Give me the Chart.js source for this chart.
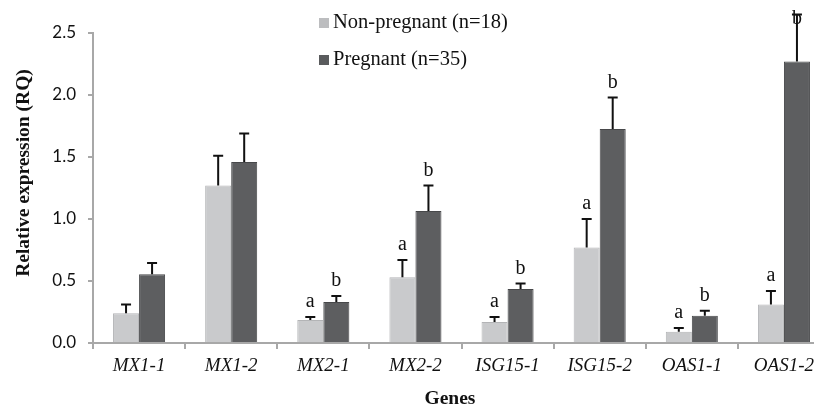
<!DOCTYPE html>
<html>
<head>
<meta charset="utf-8">
<script src="https://cdn.jsdelivr.net/npm/chart.js@4.4.1/dist/chart.umd.min.js"></script>
<style>
    html, body { margin: 0; padding: 0; background: #fff; overflow: hidden; }
    #wrap { width: 830px; height: 411px; }
</style>
</head>
<body>
<div id="wrap"><canvas id="chart"></canvas></div>
<script>
const genes = ['MX1-1', 'MX1-2', 'MX2-1', 'MX2-2', 'ISG15-1', 'ISG15-2', 'OAS1-1', 'OAS1-2'];
const yTicks = [0, 0.5, 1.0, 1.5, 2.0, 2.5];

const nonPregnant = [0.24, 1.27, 0.185, 0.53, 0.17, 0.77, 0.09, 0.31];
const nonPregnantErr = [0.07, 0.24, 0.025, 0.14, 0.04, 0.23, 0.03, 0.11];
const nonPregnantMarks = ['', '', 'a', 'a', 'a', 'a', 'a', 'a'];

const pregnant = [0.555, 1.46, 0.33, 1.065, 0.435, 1.725, 0.22, 2.27];
const pregnantErr = [0.09, 0.23, 0.05, 0.205, 0.045, 0.255, 0.04, 0.38];
const pregnantMarks = ['', '', 'b', 'b', 'b', 'b', 'b', 'b'];

const serif = '"Liberation Serif", "Times New Roman", serif';

// error bars (upper only) + significance letters
const errorBars = {
    id: 'errorBars',
    afterDatasetsDraw(chart) {
        const {ctx, scales: {y}} = chart;
        chart.data.datasets.forEach((ds, i) => {
            const meta = chart.getDatasetMeta(i);
            meta.data.forEach((bar, j) => {
                const top = y.getPixelForValue(ds.data[j] + ds.errors[j]);
                ctx.save();
                ctx.strokeStyle = '#111';
                ctx.lineWidth = 2;
                ctx.beginPath();
                ctx.moveTo(bar.x, bar.y);
                ctx.lineTo(bar.x, top);
                ctx.moveTo(bar.x - 5, top);
                ctx.lineTo(bar.x + 5, top);
                ctx.stroke();
                if (ds.marks[j]) {
                    ctx.fillStyle = '#111';
                    ctx.font = `20px ${serif}`;
                    ctx.textAlign = 'center';
                    ctx.textBaseline = 'middle';
                    ctx.fillText(ds.marks[j], bar.x, Math.max(top - 15, 19));
                }
                ctx.restore();
            });
        });
    }
};

// legend + axis titles
const extras = {
    id: 'extras',
    afterDraw(chart) {
        const {ctx} = chart;
        ctx.save();
        chart.data.datasets.forEach((ds, i) => {
            const yy = 23 + i * 37;
            ctx.fillStyle = ds.legendColor;
            ctx.fillRect(319, yy - 5, 10, 10);
            ctx.fillStyle = '#111';
            ctx.font = `20.5px ${serif}`;
            ctx.textAlign = 'left';
            ctx.textBaseline = 'middle';
            ctx.fillText(ds.label, 333, yy);
        });
        ctx.font = `bold 19.5px ${serif}`;
        ctx.textAlign = 'center';
        ctx.textBaseline = 'middle';
        ctx.fillText('Genes', 450, 399);
        ctx.translate(24, 173);
        ctx.rotate(-Math.PI / 2);
        ctx.fillText('Relative expression (RQ)', 0, 0);
        ctx.restore();
    }
};

new Chart(document.getElementById('chart'), {
    type: 'bar',
    data: {
        labels: genes,
        datasets: [
            {
                label: 'Non-pregnant (n=18)',
                data: nonPregnant,
                errors: nonPregnantErr,
                marks: nonPregnantMarks,
                backgroundColor: '#c9cacc',
                borderColor: '#b3b4b6',
                borderWidth: 1,
                legendColor: '#bcbdbf',
            },
            {
                label: 'Pregnant (n=35)',
                data: pregnant,
                errors: pregnantErr,
                marks: pregnantMarks,
                backgroundColor: '#5d5e60',
                borderColor: '#47484a',
                borderWidth: 1,
                legendColor: '#5a5b5d',
            }
        ]
    },
    options: {
        responsive: true,
        maintainAspectRatio: false,
        animation: false,
        layout: {padding: {top: 33, right: 0, left: 0, bottom: 0}},
        datasets: {bar: {categoryPercentage: 0.565, barPercentage: 1}},
        plugins: {legend: {display: false}, tooltip: {enabled: false}},
        scales: {
            x: {
                afterFit: (s) => { s.height = 68; },
                grid: {drawOnChartArea: false, offset: true, tickLength: 6, color: '#a8a8a8', lineWidth: 2},
                border: {color: '#a8a8a8', width: 2},
                ticks: {color: '#111', padding: 6, font: {family: serif, size: 19, style: 'italic'}}
            },
            y: {
                min: 0,
                max: 2.5,
                afterFit: (s) => { s.width = 93; },
                afterBuildTicks: (s) => { s.ticks = yTicks.map(v => ({value: v})); },
                grid: {drawOnChartArea: false, tickLength: 5, color: '#a8a8a8', lineWidth: 2},
                border: {color: '#a8a8a8', width: 2},
                ticks: {
                    color: '#111',
                    padding: 12,
                    font: {family: 'Lato, "Open Sans", sans-serif', size: 17},
                    callback: (v) => Number(v).toFixed(1)
                }
            }
        }
    },
    plugins: [errorBars, extras]
});
</script>
</body>
</html>
